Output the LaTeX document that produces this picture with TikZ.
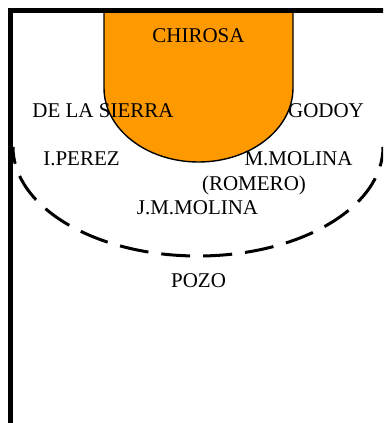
\documentclass[tikz,border=0pt]{standalone}
\usepackage{fontspec}
\setmainfont{Liberation Serif}
\definecolor{keyorange}{RGB}{255,153,0}
\begin{document}
\begin{tikzpicture}[x=1pt,y=-1pt,
  lbl/.style={anchor=base,inner sep=0pt,font=\fontsize{21}{24}\selectfont},
  border/.style={line width=5pt,black},
  keyline/.style={draw=black,line width=1.4pt,fill=keyorange},
  arcline/.style={line width=3pt,dash pattern=on 29pt off 13pt,dash phase=12pt}]
\useasboundingbox (0,0) rectangle (383,423);
\clip (0,0) rectangle (383,423);
% key (lane)
\path[keyline] (104,8) -- (104,88) arc[start angle=180,end angle=0,x radius=94.5,y radius=74] -- (293,8);
% three-point line
\draw[arcline] (13,147) arc[start angle=180,end angle=0,x radius=185,y radius=109];
% borders
\draw[border] (10,430) -- (10,10.7) -- (390,10.7);
% labels
\node[lbl] (chirosa) at (198.5,42) {CHIROSA};
\node[lbl] (sierra) at (103,117) {DE LA SIERRA};
\node[lbl] (godoy) at (326,117) {GODOY};
\node[lbl] (perez) at (81.5,165) {I.PEREZ};
\node[lbl] (mmolina) at (298.5,165) {M.MOLINA};
\node[lbl] (romero) at (254,190) {(ROMERO)};
\node[lbl] (jmmolina) at (197.5,214) {J.M.MOLINA};
\node[lbl] (pozo) at (198.5,287) {POZO};
\end{tikzpicture}
\end{document}
